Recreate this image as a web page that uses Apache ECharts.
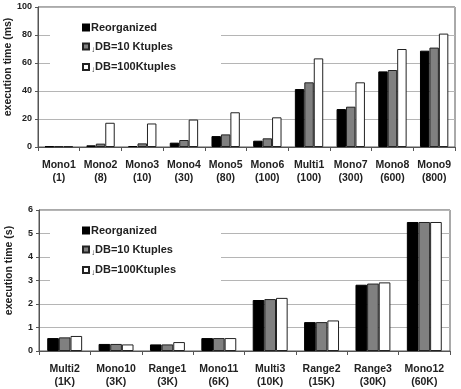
<!DOCTYPE html>
<html>
<head>
<meta charset="utf-8">
<script src="https://cdn.jsdelivr.net/npm/echarts@6/dist/echarts.min.js"></script>
<style>
  html, body { margin: 0; padding: 0; background: #fff; }
  #chart { width: 461px; height: 389px; }
</style>
</head>
<body>
<div id="chart"></div>
<script>
// series names
const seriesNames = ['Reorganized', '↓DB=10 Ktuples', '↓DB=100Ktuples'];

// top chart (ms)
const topCategories = ['Mono1\n(1)', 'Mono2\n(8)', 'Mono3\n(10)', 'Mono4\n(30)', 'Mono5\n(80)',
	'Mono6\n(100)', 'Multi1\n(100)', 'Mono7\n(300)', 'Mono8\n(600)', 'Mono9\n(800)'];
const topReorganized = [0.5, 1.2, 0.7, 3.1, 7.8, 4.5, 41.4, 27.1, 54, 68.8];
const topDb10 = [0.5, 2.4, 2.6, 5, 9, 6.2, 46.2, 28.8, 55, 71];
const topDb100 = [0.5, 17.3, 16.8, 19.6, 24.8, 21.2, 63.3, 46.2, 70, 81];
const topTicks = [0, 100, 20];

// bottom chart (s)
const bottomCategories = ['Multi2\n(1K)', 'Mono10\n(3K)', 'Range1\n(3K)', 'Mono11\n(6K)',
	'Multi3\n(10K)', 'Range2\n(15K)', 'Range3\n(30K)', 'Mono12\n(60K)'];
const bottomReorganized = [0.55, 0.3, 0.28, 0.55, 2.17, 1.23, 2.82, 5.49];
const bottomDb10 = [0.58, 0.3, 0.28, 0.55, 2.21, 1.23, 2.87, 5.49];
const bottomDb100 = [0.64, 0.28, 0.38, 0.55, 2.26, 1.3, 2.92, 5.49];
const bottomTicks = [0, 6, 1];

const barStyles = [
	{ color: '#000', borderColor: '#000', borderWidth: 1 },
	{ color: '#808080', borderColor: '#222', borderWidth: 1 },
	{ color: '#fff', borderColor: '#222', borderWidth: 1 },
];

const font = '"Liberation Sans", Arial, sans-serif';

function makeXAxis(idx, cats) {
	return {
		type: 'category',
		gridIndex: idx,
		data: cats,
		axisLine: { lineStyle: { color: '#555', width: 1 } },
		axisTick: { show: true, length: 4, lineStyle: { color: '#555' } },
		axisLabel: {
			interval: 0,
			color: '#222',
			fontFamily: font,
			fontWeight: 'bold',
			fontSize: 10.5,
			lineHeight: 13,
			margin: 12,
		},
	};
}

function makeYAxis(idx, ticks, name) {
	return {
		type: 'value',
		gridIndex: idx,
		min: ticks[0],
		max: ticks[1],
		interval: ticks[2],
		name: name,
		nameLocation: 'middle',
		nameGap: 24,
		nameMoveOverlap: false,
		nameTextStyle: {
			color: '#222',
			fontFamily: font,
			fontWeight: 'bold',
			fontSize: 10.5,
			padding: [0, 0, 0, 20],
		},
		axisLine: { show: true, lineStyle: { color: '#555', width: 1 } },
		axisTick: { show: true, length: 3, lineStyle: { color: '#555' } },
		axisLabel: {
			color: '#222',
			fontFamily: font,
			fontWeight: 'bold',
			fontSize: 9,
			margin: 6,
		},
		splitLine: { lineStyle: { color: '#b5b5b5', width: 1 } },
	};
}

function makeLegend(top) {
	return {
		data: seriesNames,
		orient: 'vertical',
		left: 50,
		top: top,
		itemWidth: 6,
		itemHeight: 6,
		itemGap: 8,
		icon: 'rect',
		backgroundColor: '#fff',
		padding: [6, 45, 6, 32],
		selectedMode: false,
		textStyle: {
			color: '#222',
			fontFamily: font,
			fontWeight: 'bold',
			fontSize: 11,
			padding: [0, 0, 0, -3],
			rich: {
				a: { fontSize: 8, fontWeight: 'bold', color: '#222', padding: [6, 0, 0, 0] },
			},
		},
		formatter: (name) => name.replace('↓', '{a|↓}'),
		z: 5,
	};
}

const chart = echarts.init(document.getElementById('chart'), null, { renderer: 'canvas' });

const series = [];
const topData = [topReorganized, topDb10, topDb100];
const bottomData = [bottomReorganized, bottomDb10, bottomDb100];
seriesNames.forEach((name, i) => {
	series.push({
		name: name,
		type: 'bar',
		xAxisIndex: 0,
		yAxisIndex: 0,
		data: topData[i],
		barGap: '0%',
		barCategoryGap: '32%',
		itemStyle: barStyles[i],
		emphasis: { disabled: true },
		animation: false,
	});
});
seriesNames.forEach((name, i) => {
	series.push({
		name: name,
		type: 'bar',
		xAxisIndex: 1,
		yAxisIndex: 1,
		data: bottomData[i],
		barGap: '0%',
		barCategoryGap: '32%',
		itemStyle: barStyles[i],
		emphasis: { disabled: true },
		animation: false,
	});
});

chart.setOption({
	backgroundColor: '#fff',
	animation: false,
	grid: [
		{ left: 38, right: 6, top: 7, height: 140, show: true, borderColor: '#555', borderWidth: 1, outerBoundsMode: 'none', containLabel: false },
		{ left: 39, right: 11, top: 210, height: 141, show: true, borderColor: '#555', borderWidth: 1, outerBoundsMode: 'none', containLabel: false },
	],
	legend: [makeLegend(16), makeLegend(219)],
	xAxis: [makeXAxis(0, topCategories), makeXAxis(1, bottomCategories)],
	yAxis: [makeYAxis(0, topTicks, 'execution time (ms)'), makeYAxis(1, bottomTicks, 'execution time (s)')],
	series: series,
});
</script>
</body>
</html>
